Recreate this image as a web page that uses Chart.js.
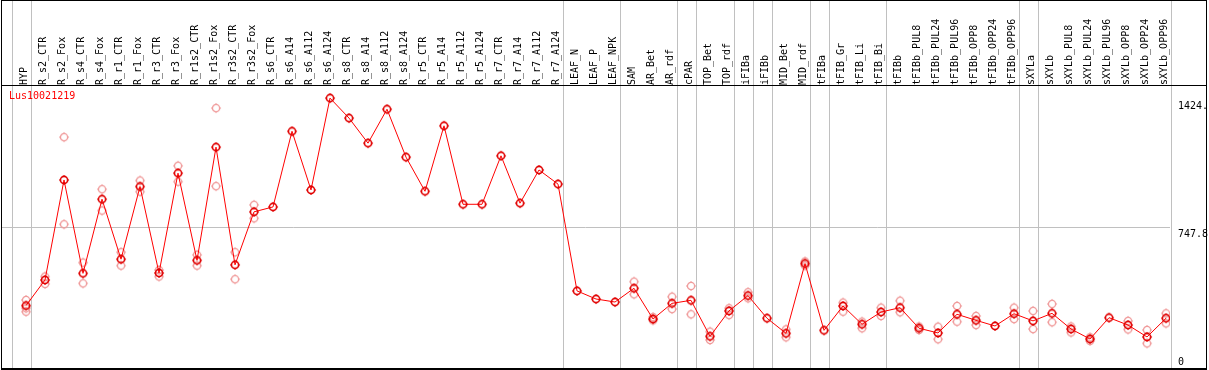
<!DOCTYPE html>
<html>
<head>
<meta charset="utf-8">
<script src="https://cdn.jsdelivr.net/npm/chart.js@4/dist/chart.umd.min.js"></script>
<style>
  html, body { margin: 0; padding: 0; background: #fff; }
  canvas { display: block; }
</style>
</head>
<body>
<canvas id="chart" width="1209" height="370"></canvas>
<script>
// -----------------------------
// Data
// -----------------------------
const GENE = "Lus10021219";

const CATEGORIES = [
    "HYP", "R_s2_CTR", "R_s2_Fox", "R_s4_CTR", "R_s4_Fox", "R_r1_CTR", "R_r1_Fox",
    "R_r3_CTR", "R_r3_Fox", "R_r1s2_CTR", "R_r1s2_Fox", "R_r3s2_CTR", "R_r3s2_Fox",
    "R_s6_CTR", "R_s6_A14", "R_s6_A112", "R_s6_A124", "R_s8_CTR", "R_s8_A14", "R_s8_A112", "R_s8_A124",
    "R_r5_CTR", "R_r5_A14", "R_r5_A112", "R_r5_A124", "R_r7_CTR", "R_r7_A14", "R_r7_A112", "R_r7_A124",
    "LEAF_N", "LEAF_P", "LEAF_NPK", "SAM", "AR_Bet", "AR_rdf", "cPAR", "TOP_Bet", "TOP_rdf",
    "iFIBa", "iFIBb", "MID_Bet", "MID_rdf", "tFIBa", "tFIB_Gr", "tFIB_Li", "tFIB_Bi", "tFIBb",
    "tFIBb_PUL8", "tFIBb_PUL24", "tFIBb_PUL96", "tFIBb_OPP8", "tFIBb_OPP24", "tFIBb_OPP96",
    "sXYLa", "sXYLb", "sXYLb_PUL8", "sXYLb_PUL24", "sXYLb_PUL96", "sXYLb_OPP8", "sXYLb_OPP24", "sXYLb_OPP96"
];

// mean expression (red line)
const MEAN = [
    336, 472, 1002, 507, 900, 582, 967, 509, 1038, 576, 1176, 552, 833,
    859, 1260, 949, 1436, 1330, 1197, 1377, 1123,
    942, 1289, 873, 873, 1130, 879, 1055, 980,
    414, 371, 355, 428, 265, 348, 364, 173, 308,
    389, 269, 189, 559, 205, 334, 237, 302, 325,
    216, 191, 290, 258, 228, 293,
    255, 295, 212, 159, 272, 233, 170, 269
];

// replicates (pale circles)
const REP_A = [
    366, 490, 1229, 564, 953, 619, 999, 525, 1077, 605, 1383, 619, 870,
    null, null, null, null, null, null, null, null,
    null, null, null, null, null, null, null, null,
    null, null, null, 463, 275, 383, 440, 198, 322,
    407, null, 210, 570, null, 352, 251, 325, 362,
    225, 224, 334, 281, null, 325,
    308, 345, 225, 168, null, 255, 207, 295
];
const REP_B = [
    322, 451, 767, 454, 840, 548, 940, 490, 993, 548, 969, 476, 799,
    null, null, null, null, null, null, null, null,
    null, null, null, null, null, null, null, null,
    null, null, null, 396, 258, 318, 290, 154, 286,
    375, null, 168, 548, null, 304, 216, 281, 301,
    207, 158, 251, 233, null, 265,
    212, 248, 194, 149, null, 210, 136, 242
];
const REP_C = [304];

const Y_TICKS = [0, 747.8, 1424];
const Y_TICK_LABELS = ["0", "747.8", "1424."];
const GROUP_ENDS = [-1, 0, 28, 31, 34, 35, 37, 38, 39, 41, 42, 45, 52, 53, 60];

// -----------------------------
// Layout constants
// -----------------------------
const X_MIN = -1.316;
const X_MAX = 60.21;
const Y_MAX = 1500;
const MONO = "DejaVu Sans Mono";

function toPoints(arr) {
    const pts = [];
    arr.forEach((v, i) => { if (v !== null && v !== undefined) pts.push({ x: i, y: v }); });
    return pts;
}

function makeMarker(color, width) {
    const c = document.createElement("canvas");
    c.width = 12; c.height = 12;
    const g = c.getContext("2d");
    g.strokeStyle = color;
    g.lineWidth = width;
    g.beginPath(); g.arc(6, 6, 3.6, 0, Math.PI * 2); g.stroke();
    g.fillStyle = color;
    g.fillRect(5.5, 1, 1, 1);
    g.fillRect(5.5, 10, 1, 1);
    g.fillRect(1, 5.5, 1, 1);
    g.fillRect(10, 5.5, 1, 1);
    return c;
}

const meanMarker = makeMarker("#e00000", 1.6);
const repMarker = makeMarker("#f09a9a", 1.3);

// -----------------------------
// Frame, separators, texts
// -----------------------------
const framePlugin = {
    id: "frame",
    beforeDatasetsDraw(chart) {
        const ctx = chart.ctx;
        const xs = chart.scales.x;
        ctx.save();
        ctx.fillStyle = "#c0c0c0";
        GROUP_ENDS.forEach(i => {
            const px = Math.round(xs.getPixelForValue(i + 0.24));
            ctx.fillRect(px, 0, 1, chart.chartArea.bottom);
        });
        ctx.restore();
    },
    afterDraw(chart) {
        const ctx = chart.ctx;
        const area = chart.chartArea;
        const ys = chart.scales.y;
        ctx.save();
        ctx.fillStyle = "#000";
        ctx.fillRect(1, 0, 1206, 1);
        ctx.fillRect(1, 85, 1206, 1);
        ctx.fillRect(1, 368, 1206, 2);
        ctx.fillRect(1, 0, 1, 370);
        ctx.fillRect(1206, 0, 1, 370);

        ctx.font = "10px " + MONO;
        ctx.textAlign = "left";
        Y_TICKS.forEach((v, k) => {
            const py = ys.getPixelForValue(v);
            if (py + 12 > area.bottom) {
                ctx.textBaseline = "bottom";
                ctx.fillText(Y_TICK_LABELS[k], 1178, area.bottom - 2);
            } else {
                ctx.textBaseline = "top";
                ctx.fillText(Y_TICK_LABELS[k], 1178, py + 1);
            }
        });

        ctx.fillStyle = "#ff0000";
        ctx.textBaseline = "top";
        ctx.fillText(GENE, 9, 91);
        ctx.restore();
    }
};

// -----------------------------
// Chart
// -----------------------------
new Chart(document.getElementById("chart"), {
    type: "line",
    data: {
        datasets: [
            {
                label: GENE,
                data: toPoints(MEAN),
                borderColor: "#ff0000",
                borderWidth: 1,
                pointStyle: meanMarker,
                tension: 0
            },
            { label: "rep A", data: toPoints(REP_A), showLine: false, pointStyle: repMarker },
            { label: "rep B", data: toPoints(REP_B), showLine: false, pointStyle: repMarker },
            { label: "rep C", data: toPoints(REP_C), showLine: false, pointStyle: repMarker }
        ]
    },
    options: {
        responsive: false,
        animation: false,
        layout: { autoPadding: false, padding: { left: 1, right: 2, top: 0, bottom: 1 } },
        plugins: { legend: { display: false }, tooltip: { enabled: false } },
        scales: {
            x: {
                type: "linear",
                position: "top",
                min: X_MIN,
                max: X_MAX,
                afterBuildTicks: s => { s.ticks = CATEGORIES.map((_, i) => ({ value: i })); },
                afterFit: s => { s.height = 86; },
                grid: { display: false },
                border: { display: false },
                ticks: {
                    autoSkip: false,
                    minRotation: 90,
                    maxRotation: 90,
                    padding: -7,
                    labelOffset: 10,
                    color: "#000",
                    font: { family: MONO, size: 10 },
                    callback: v => CATEGORIES[v]
                }
            },
            y: {
                position: "right",
                min: 0,
                max: Y_MAX,
                afterBuildTicks: s => { s.ticks = Y_TICKS.map(v => ({ value: v })); },
                afterFit: s => { s.width = 37; },
                ticks: { display: false },
                border: { display: false },
                grid: {
                    drawTicks: false,
                    color: c => (c.tick && c.tick.value === 747.8) ? "#c0c0c0" : "rgba(0,0,0,0)"
                }
            }
        }
    },
    plugins: [framePlugin]
});
</script>
</body>
</html>
